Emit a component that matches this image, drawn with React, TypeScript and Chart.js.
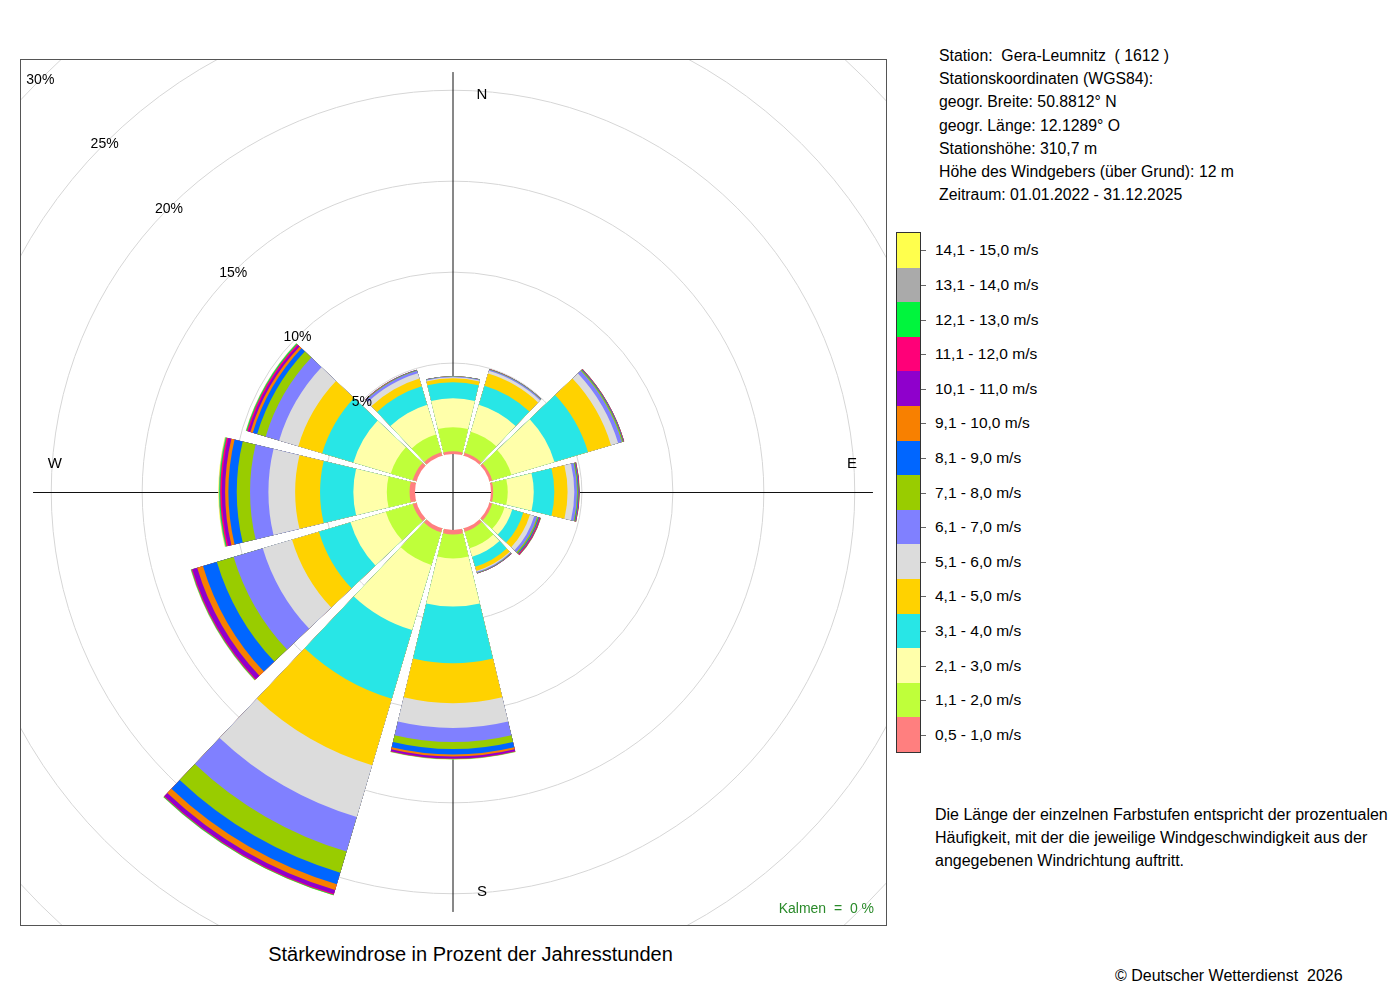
import React, { useEffect, useRef } from 'react';
import Chart from 'chart.js/auto';

// ---------------- data ----------------
const DIRECTIONS = ['N', 'NNO', 'ONO', 'O', 'OSO', 'SSO', 'S', 'SSW', 'WSW', 'W', 'WNW', 'NNW'];

// share of hours (%) per wind speed class, one value per direction sector
const s05_10 = [0.15, 0.16, 0.16, 0.12, 0.16, 0.19, 0.24, 0.22, 0.22, 0.30, 0.22, 0.19];
const s11_20 = [1.32, 1.21, 1.10, 0.80, 0.71, 0.95, 1.32, 1.87, 1.54, 1.25, 1.26, 1.02];
const s21_30 = [1.59, 1.54, 2.47, 1.43, 0.44, 0.48, 2.65, 3.74, 2.03, 1.84, 2.14, 1.70];
const s31_40 = [0.88, 1.10, 1.92, 1.13, 0.63, 0.58, 3.11, 3.93, 1.81, 1.83, 1.79, 1.07];
const s41_50 = [0.22, 0.69, 1.32, 0.73, 0.38, 0.24, 2.20, 3.82, 1.54, 1.37, 1.37, 0.44];
const s51_60 = [0.06, 0.16, 0.41, 0.37, 0.25, 0.05, 1.37, 2.97, 1.68, 1.47, 1.10, 0.30];
const s61_70 = [0.04, 0.06, 0.22, 0.15, 0.16, 0.05, 0.77, 1.98, 1.67, 1.01, 0.77, 0.14];
const s71_80 = [0.01, 0.02, 0.06, 0.05, 0.07, 0.02, 0.38, 1.21, 0.96, 0.73, 0.49, 0.03];
const s81_90 = [0.01, 0.01, 0.03, 0.04, 0.05, 0.01, 0.31, 0.66, 0.80, 0.46, 0.25, 0.01];
const s91_100 = [0.0, 0.01, 0.02, 0.02, 0.03, 0.01, 0.11, 0.33, 0.33, 0.18, 0.14, 0.01];
const s101_110 = [0.0, 0.0, 0.01, 0.02, 0.03, 0.01, 0.09, 0.22, 0.27, 0.18, 0.11, 0.01];
const s111_120 = [0.0, 0.0, 0.01, 0.01, 0.03, 0.0, 0.03, 0.05, 0.05, 0.09, 0.08, 0.0];
const s121_130 = [0.0, 0.0, 0.0, 0.01, 0.01, 0.0, 0.02, 0.03, 0.03, 0.05, 0.05, 0.0];
const s131_140 = [0.0, 0.0, 0.0, 0.0, 0.01, 0.0, 0.01, 0.01, 0.02, 0.03, 0.02, 0.0];
const s141_150 = [0.0, 0.0, 0.0, 0.0, 0.0, 0.0, 0.01, 0.01, 0.01, 0.03, 0.01, 0.0];

const SPEED_LABELS = [
  '0,5 - 1,0 m/s', '1,1 - 2,0 m/s', '2,1 - 3,0 m/s', '3,1 - 4,0 m/s', '4,1 - 5,0 m/s',
  '5,1 - 6,0 m/s', '6,1 - 7,0 m/s', '7,1 - 8,0 m/s', '8,1 - 9,0 m/s', '9,1 - 10,0 m/s',
  '10,1 - 11,0 m/s', '11,1 - 12,0 m/s', '12,1 - 13,0 m/s', '13,1 - 14,0 m/s', '14,1 - 15,0 m/s',
];
const SPEED_COLORS = [
  '#FF7F7F', '#BFFF3A', '#FFFFAA', '#28E6E6', '#FFD200',
  '#DCDCDC', '#8080FF', '#99CC00', '#0066FF', '#F88000',
  '#8F00CC', '#FF0078', '#00F53D', '#AAAAAA', '#FFFF4D',
];
const PCT_TICKS = [5, 10, 15, 20, 25, 30];
const COMPASS = ['N', 'E', 'S', 'W'];
const CALM_PCT = 0;

const STATION_LINES = [
  'Station:  Gera-Leumnitz  ( 1612 )',
  'Stationskoordinaten (WGS84):',
  'geogr. Breite: 50.8812° N',
  'geogr. Länge: 12.1289° O',
  'Stationshöhe: 310,7 m',
  'Höhe des Windgebers (über Grund): 12 m',
  'Zeitraum: 01.01.2022 - 31.12.2025',
];
const NOTE_LINES = [
  'Die Länge der einzelnen Farbstufen entspricht der prozentualen',
  'Häufigkeit, mit der die jeweilige Windgeschwindigkeit aus der',
  'angegebenen Windrichtung auftritt.',
];

// ---------------- geometry ----------------
const R_MIN = -2.09;
const R_MAX = 32;
const SECTOR_DEG = 27;
const GAP_DEG = 3;
const AXIS_PCT = 21;
const COMPASS_PCT = 19.8;
const CANVAS = 1240;
const CX = 453;
const CY = 492;
const BOX_L = 20;
const BOX_T = 59;
const BOX_S = 867;
const FONT = '"Liberation Sans", Arial, Helvetica, sans-serif';

const roseDecor = {
  id: 'roseDecor',
  beforeDatasetsDraw(chart: any) {
    const s = chart.scales.r;
    const ctx = chart.ctx;
    const cx = s.xCenter;
    const cy = s.yCenter;
    const L = s.getDistanceFromCenterForValue(AXIS_PCT);
    ctx.save();
    ctx.strokeStyle = '#111';
    ctx.lineWidth = 1;
    ctx.beginPath();
    ctx.moveTo(cx, cy - L);
    ctx.lineTo(cx, cy + L);
    ctx.stroke();
    ctx.beginPath();
    ctx.moveTo(cx - L, cy + 0.5);
    ctx.lineTo(cx + L, cy + 0.5);
    ctx.stroke();
    ctx.restore();
  },
  afterDatasetsDraw(chart: any) {
    const s = chart.scales.r;
    const ctx = chart.ctx;
    const cx = s.xCenter;
    const cy = s.yCenter;
    const r0 = s.getDistanceFromCenterForValue(CALM_PCT);
    ctx.save();
    // calm circle
    ctx.fillStyle = '#ffffff';
    ctx.beginPath();
    ctx.arc(cx, cy, r0, 0, Math.PI * 2);
    ctx.fill();
    ctx.strokeStyle = '#111';
    ctx.lineWidth = 1;
    ctx.beginPath();
    ctx.moveTo(cx, cy - r0);
    ctx.lineTo(cx, cy + r0);
    ctx.stroke();
    ctx.beginPath();
    ctx.moveTo(cx - r0, cy + 0.5);
    ctx.lineTo(cx + r0, cy + 0.5);
    ctx.stroke();
    // percent labels on the NW diagonal
    ctx.fillStyle = '#000';
    ctx.font = '14px ' + FONT;
    ctx.textAlign = 'center';
    ctx.textBaseline = 'middle';
    PCT_TICKS.forEach((v) => {
      const r = s.getDistanceFromCenterForValue(v) / Math.SQRT2;
      ctx.fillText(v + '%', cx - r, cy - r + 1);
    });
    // compass labels
    const rc = s.getDistanceFromCenterForValue(COMPASS_PCT);
    const off = 29;
    ctx.font = '15px ' + FONT;
    const pos: Record<string, [number, number]> = {
      N: [cx + off, cy - rc + 1],
      S: [cx + off, cy + rc + 2],
      W: [cx - rc, cy - off + 1],
      E: [cx + rc + 1, cy - off + 1],
    };
    COMPASS.forEach((c) => ctx.fillText(c, pos[c][0], pos[c][1]));
    ctx.restore();
  },
};

function RoseChart() {
  const ref = useRef<HTMLCanvasElement>(null);
  useEffect(() => {
    const series = [
      s05_10, s11_20, s21_30, s31_40, s41_50, s51_60, s61_70, s71_80,
      s81_90, s91_100, s101_110, s111_120, s121_130, s131_140, s141_150,
    ];
    const labels: string[] = [];
    DIRECTIONS.forEach((d) => {
      labels.push(d);
      labels.push('');
    });
    const datasets = series.map((_, k) => {
      const data: number[] = [];
      DIRECTIONS.forEach((_, i) => {
        let sum = 0;
        for (let j = 0; j <= k; j++) sum += series[j][i];
        data.push(Math.round(sum * 1000) / 1000);
        data.push(0);
      });
      return {
        label: SPEED_LABELS[k],
        data,
        backgroundColor: data.map((_, idx) => (idx % 2 ? 'rgba(0,0,0,0)' : SPEED_COLORS[k])),
        borderWidth: 0,
        angle: (c: any) => (c.dataIndex % 2 ? GAP_DEG : SECTOR_DEG),
      };
    });
    const chart = new Chart(ref.current as HTMLCanvasElement, {
      type: 'polarArea',
      data: { labels, datasets },
      options: {
        responsive: false,
        animation: false,
        devicePixelRatio: 1,
        events: [],
        layout: { padding: 0 },
        plugins: { legend: { display: false }, tooltip: { enabled: false } },
        elements: { arc: { borderWidth: 0 } },
        scales: {
          r: {
            min: R_MIN,
            max: R_MAX,
            startAngle: -SECTOR_DEG / 2,
            ticks: { display: false, stepSize: 5, includeBounds: false },
            grid: {
              lineWidth: 1,
              color: (c: any) => {
                const v = c.tick ? c.tick.value : 0;
                return v > 0 && Math.abs(v % 5) < 1e-6 ? '#d6d6d6' : 'rgba(0,0,0,0)';
              },
            },
            angleLines: { display: false },
            pointLabels: { display: false },
          },
        },
      } as any,
      plugins: [roseDecor],
    } as any);
    return () => chart.destroy();
  }, []);

  return (
    <div
      style={{
        position: 'absolute',
        left: BOX_L,
        top: BOX_T,
        width: BOX_S,
        height: BOX_S,
        boxSizing: 'border-box',
        border: '1px solid #555',
        overflow: 'hidden',
      }}
    >
      <canvas
        ref={ref}
        width={CANVAS}
        height={CANVAS}
        style={{
          position: 'absolute',
          left: CX - CANVAS / 2 - BOX_L - 1,
          top: CY - CANVAS / 2 - BOX_T - 1,
          width: CANVAS,
          height: CANVAS,
        }}
      />
    </div>
  );
}

export default function App() {
  const n = SPEED_LABELS.length;
  const barTop = 232;
  const barH = 521;
  const rowH = (barH - 2) / n;
  return (
    <div
      style={{
        position: 'absolute',
        left: 0,
        top: 0,
        width: 1400,
        height: 1000,
        background: '#fff',
        fontFamily: FONT,
        color: '#000',
        overflow: 'hidden',
      }}
    >
      <RoseChart />
      <div
        style={{
          position: 'absolute',
          left: 700,
          width: 174,
          top: 898,
          lineHeight: '20px',
          fontSize: 14,
          textAlign: 'right',
          color: '#2a8a2a',
          whiteSpace: 'pre',
        }}
      >
        {'Kalmen  =  ' + CALM_PCT + ' %'}
      </div>
      <div
        style={{
          position: 'absolute',
          left: 0,
          width: 941,
          top: 942,
          lineHeight: '24px',
          fontSize: 20,
          textAlign: 'center',
        }}
      >
        Stärkewindrose in Prozent der Jahresstunden
      </div>
      <div style={{ position: 'absolute', left: 939, top: 44, fontSize: 15.8, lineHeight: '23.2px', whiteSpace: 'pre' }}>
        {STATION_LINES.map((l, i) => (
          <div key={i}>{l}</div>
        ))}
      </div>
      {/* colour key */}
      <div
        style={{
          position: 'absolute',
          left: 896,
          top: barTop,
          width: 25,
          height: barH,
          boxSizing: 'border-box',
          border: '1px solid #333',
          display: 'flex',
          flexDirection: 'column',
        }}
      >
        {SPEED_COLORS.slice()
          .reverse()
          .map((c, i) => (
            <div key={i} style={{ flex: 1, background: c }} />
          ))}
      </div>
      {SPEED_LABELS.slice()
        .reverse()
        .map((l, i) => {
          const cy = barTop + 1 + rowH * (i + 0.5);
          return (
            <React.Fragment key={i}>
              <div
                style={{ position: 'absolute', left: 921, top: Math.round(cy), width: 5, height: 1, background: '#666' }}
              />
              <div
                style={{
                  position: 'absolute',
                  left: 935,
                  top: cy - 10,
                  lineHeight: '20px',
                  fontSize: 15.5,
                  whiteSpace: 'pre',
                }}
              >
                {l}
              </div>
            </React.Fragment>
          );
        })}
      <div style={{ position: 'absolute', left: 935, top: 802.5, fontSize: 16, lineHeight: '23px', whiteSpace: 'pre' }}>
        {NOTE_LINES.map((l, i) => (
          <div key={i}>{l}</div>
        ))}
      </div>
      <div style={{ position: 'absolute', left: 1115, top: 966, fontSize: 16, lineHeight: '20px', whiteSpace: 'pre' }}>
        {'© Deutscher Wetterdienst  2026'}
      </div>
    </div>
  );
}
